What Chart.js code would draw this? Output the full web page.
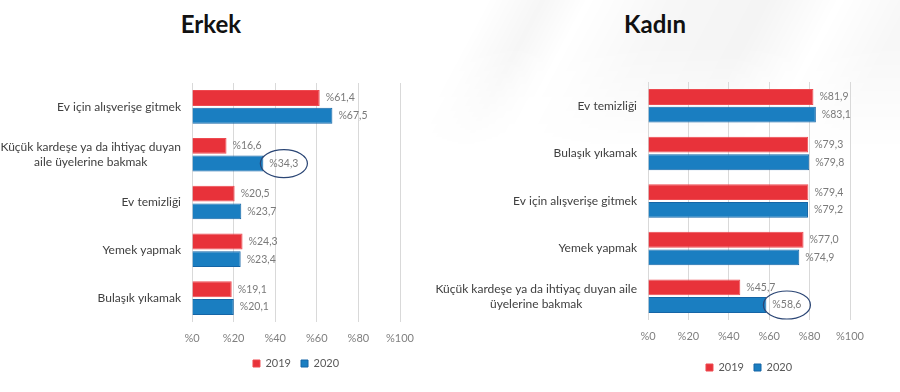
<!DOCTYPE html>
<html>
<head>
<meta charset="utf-8">
<script src="https://cdn.jsdelivr.net/npm/chart.js@4.4.1/dist/chart.umd.min.js"></script>
<style>
  html, body { margin: 0; padding: 0; background: #fff; }
  #wrap { position: relative; width: 900px; height: 392px; overflow: hidden; background: #fff; }
  #golge { position: absolute; left: 420px; top: 0; width: 480px; height: 150px;
    background: linear-gradient(118deg, rgba(255,255,255,0) 12%, rgba(0,0,0,0.035) 22%, rgba(255,255,255,0) 30%,
      rgba(0,0,0,0.03) 45%, rgba(0,0,0,0.045) 62%, rgba(255,255,255,0) 75%, rgba(0,0,0,0.03) 88%);
    -webkit-mask-image: linear-gradient(to bottom, #000 30%, transparent 100%);
    mask-image: linear-gradient(to bottom, #000 30%, transparent 100%); }
  .baslik { position: absolute; top: 9px; font-family: Lato, sans-serif; font-weight: 700;
    font-size: 24px; color: #111; transform: translateX(-50%); }
  canvas { position: absolute; top: 0; }
</style>
</head>
<body>
<div id="wrap">
  <div id="golge"></div>
  <div class="baslik" style="left:211px">Erkek</div>
  <div class="baslik" style="left:655px">Kadın</div>
  <canvas id="grafikErkek" width="450" height="392" style="left:0"></canvas>
  <canvas id="grafikKadin" width="480" height="392" style="left:420px"></canvas>
</div>
<script>
// ------- VERİLER -------
const yillar = ['2019', '2020'];
const xTikler = [0, 20, 40, 60, 80, 100];

const erkekEtiketler = [
    'Ev için alışverişe gitmek',
    ['Küçük kardeşe ya da ihtiyaç duyan', 'aile üyelerine bakmak'],
    'Ev temizliği',
    'Yemek yapmak',
    'Bulaşık yıkamak'
];
const erkek2019 = [61.4, 16.6, 20.5, 24.3, 19.1];
const erkek2020 = [67.5, 34.3, 23.7, 23.4, 20.1];

const kadinEtiketler = [
    'Ev temizliği',
    'Bulaşık yıkamak',
    'Ev için alışverişe gitmek',
    'Yemek yapmak',
    ['Küçük kardeşe ya da ihtiyaç duyan aile', 'üyelerine bakmak']
];
const kadin2019 = [81.9, 79.3, 79.4, 77.0, 45.7];
const kadin2020 = [83.1, 79.8, 79.2, 74.9, 58.6];

// daire içine alınan değer (seri, sıra)
const erkekVurgu = [1, 1];
const kadinVurgu = [1, 4];

const KIRMIZI = '#E8323A';
const MAVI = '#1A7EC1';
const FONT = 'Lato';

function yuzde(v){
    return '%' + v.toFixed(1).replace('.', ',');
}

// değer etiketleri + vurgu elipsi
const degerEtiketi = {
    id: 'degerEtiketi',
    afterDatasetsDraw(chart, args, opts){
        const ctx = chart.ctx;
        ctx.save();
        ctx.font = '10.5px ' + FONT;
        ctx.fillStyle = '#7a7a7a';
        ctx.textBaseline = 'middle';
        ctx.textAlign = 'left';
        chart.data.datasets.forEach((ds, i) => {
            chart.getDatasetMeta(i).data.forEach((bar, j) => {
                const txt = yuzde(ds.data[j]);
                const x = bar.x + 6;
                ctx.fillText(txt, x, bar.y);
                if (opts.vurgu && opts.vurgu[0] === i && opts.vurgu[1] === j) {
                    const w = ctx.measureText(txt).width;
                    ctx.beginPath();
                    ctx.strokeStyle = '#2B4675';
                    ctx.lineWidth = 1.2;
                    ctx.ellipse(x + w / 2, bar.y, w / 2 + 9, 14, 0, 0, Math.PI * 2);
                    ctx.stroke();
                }
            });
        });
        ctx.restore();
    }
};

// kategori etiketleri: sağa yaslı blok, satırlar kendi içinde ortalı
const kategoriEtiketi = {
    id: 'kategoriEtiketi',
    afterDraw(chart){
        const ctx = chart.ctx;
        const y = chart.scales.y;
        const sag = chart.chartArea.left - 11;
        const satirH = 15;
        ctx.save();
        ctx.font = '12px ' + FONT;
        ctx.fillStyle = '#404040';
        ctx.textBaseline = 'middle';
        ctx.textAlign = 'center';
        chart.data.labels.forEach((lbl, i) => {
            const satirlar = Array.isArray(lbl) ? lbl : [lbl];
            const maxW = Math.max(...satirlar.map(s => ctx.measureText(s).width));
            const cx = sag - maxW / 2;
            const y0 = y.getPixelForTick(i) - (satirlar.length - 1) * satirH / 2;
            satirlar.forEach((s, k) => ctx.fillText(s, cx, y0 + k * satirH));
        });
        ctx.restore();
    }
};

function grafikCiz(el, etiketler, v2019, v2020, vurgu, ekseGenislik, ustBosluk, xYukseklik, altBosluk){
    return new Chart(el, {
        type: 'bar',
        data: {
            labels: etiketler,
            datasets: [{
                label: yillar[0],
                data: v2019,
                backgroundColor: KIRMIZI,
                borderColor: '#EE4A50',
                borderWidth: 1,
                barPercentage: 0.9,
                categoryPercentage: 0.74
            }, {
                label: yillar[1],
                data: v2020,
                backgroundColor: MAVI,
                borderColor: '#1565A6',
                borderWidth: 1,
                barPercentage: 0.9,
                categoryPercentage: 0.74
            }]
        },
        options: {
            indexAxis: 'y',
            responsive: false,
            animation: false,
            layout: { padding: { top: ustBosluk, right: 50, bottom: altBosluk, left: 0 } },
            scales: {
                x: {
                    min: 0, max: 100,
                    afterBuildTicks: s => { s.ticks = xTikler.map(v => ({ value: v })); },
                    afterFit: s => { s.height = xYukseklik; },
                    border: { display: false },
                    grid: { color: '#d9d9d9', drawTicks: false },
                    ticks: { padding: 10, color: '#7f7f7f', font: { family: FONT, size: 11 },
                        callback: v => '%' + v }
                },
                y: {
                    afterFit: s => { s.width = ekseGenislik; },
                    border: { display: false },
                    grid: { display: false, drawTicks: false },
                    ticks: { display: false }
                }
            },
            plugins: {
                legend: {
                    position: 'bottom',
                    fullSize: false,
                    labels: { boxWidth: 7, boxHeight: 7, padding: 10, color: '#595959',
                        font: { family: FONT, size: 11 } }
                },
                tooltip: { enabled: false },
                degerEtiketi: { vurgu: vurgu }
            }
        },
        plugins: [degerEtiketi, kategoriEtiketi]
    });
}

const GRAF_ERKEK = grafikCiz(document.getElementById('grafikErkek'),
    erkekEtiketler, erkek2019, erkek2020, erkekVurgu, 192, 83, 26, 13);
const GRAF_KADIN = grafikCiz(document.getElementById('grafikKadin'),
    kadinEtiketler, kadin2019, kadin2020, kadinVurgu, 228, 82, 32, 9);
</script>
</body>
</html>
